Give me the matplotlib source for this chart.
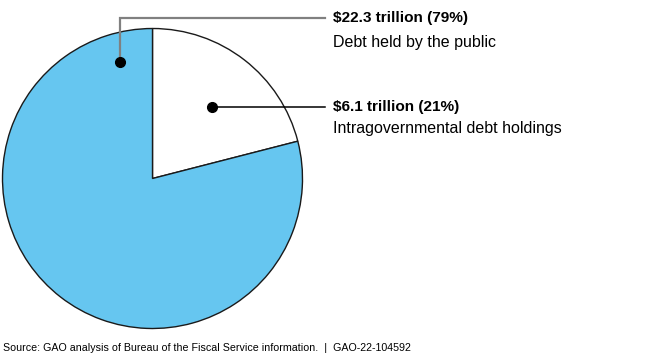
import matplotlib
matplotlib.use("Agg")
import matplotlib.pyplot as plt

plt.rcParams['font.family'] = ['Liberation Sans', 'DejaVu Sans']

categories = ["Intragovernmental debt holdings", "Debt held by the public"]
amounts = ["$6.1 trillion", "$22.3 trillion"]
shares = [21, 79]
colors = ["#ffffff", "#66c6f0"]
source = "Source: GAO analysis of Bureau of the Fiscal Service information.  |  GAO-22-104592"

W, H = 650, 357
fig = plt.figure(figsize=(W / 100, H / 100), dpi=100)
ax = fig.add_axes([0, 0, 1, 1])

def Y(y):
    return H - y

cx, cy, r = 152.5, 178.5, 150
ax.pie(shares, colors=colors, startangle=90, counterclock=False,
       center=(cx, Y(cy)), radius=r, frame=True,
       wedgeprops=dict(edgecolor='#1a1a1a', linewidth=1.0))
ax.set_xlim(0, W)
ax.set_ylim(0, H)
ax.set_aspect('equal')
ax.axis('off')

# Leader for public
ax.plot([120, 120, 325], [Y(62), Y(18), Y(18)], color='#808080', lw=1.6,
        solid_joinstyle='miter', zorder=5)
ax.plot([120], [Y(62)], 'o', color='black', ms=7, zorder=6)
# Leader for intragovernmental
ax.plot([212, 325], [Y(107), Y(107)], color='black', lw=1.1, zorder=5)
ax.plot([212], [Y(107)], 'o', color='black', ms=7, zorder=6)

tx = 333
ax.text(tx, Y(18), f"{amounts[1]} ({shares[1]}%)", fontsize=11.1, fontweight='bold',
        va='center', ha='left')
ax.text(tx, Y(43), categories[1], fontsize=11.5, va='center', ha='left')
ax.text(tx, Y(107), f"{amounts[0]} ({shares[0]}%)", fontsize=11.1, fontweight='bold',
        va='center', ha='left')
ax.text(tx, Y(129), categories[0], fontsize=11.5, va='center', ha='left')

ax.text(3, Y(348), source, fontsize=7.7, va='center', ha='left')

fig.savefig("out.png", dpi=100)
